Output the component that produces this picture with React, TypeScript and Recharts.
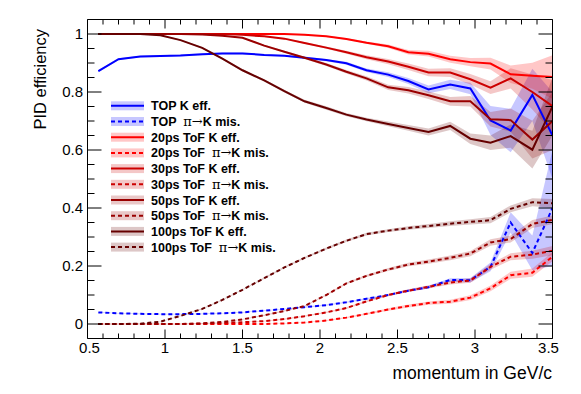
import React from 'react';
import { ComposedChart, Line, Area, XAxis, YAxis } from 'recharts';

const momentum = [0.57, 0.70, 0.84, 0.97, 1.10, 1.24, 1.37, 1.50, 1.64, 1.77, 1.90, 2.04, 2.17, 2.30, 2.44, 2.57, 2.70, 2.84, 2.97, 3.10, 3.23, 3.37, 3.50];

const topEff = [0.872, 0.913, 0.922, 0.924, 0.926, 0.930, 0.933, 0.933, 0.928, 0.925, 0.918, 0.910, 0.899, 0.875, 0.860, 0.838, 0.809, 0.826, 0.812, 0.702, 0.667, 0.790, 0.650];
const topEffErr = [0.004, 0.003, 0.003, 0.003, 0.003, 0.003, 0.003, 0.003, 0.003, 0.003, 0.004, 0.004, 0.005, 0.006, 0.008, 0.010, 0.013, 0.016, 0.020, 0.050, 0.075, 0.090, 0.150];
const topMis = [0.040, 0.037, 0.035, 0.034, 0.034, 0.035, 0.037, 0.040, 0.046, 0.052, 0.058, 0.065, 0.075, 0.087, 0.100, 0.115, 0.127, 0.152, 0.151, 0.197, 0.350, 0.245, 0.400];
const topMisErr = [0.001, 0.001, 0.001, 0.001, 0.001, 0.001, 0.001, 0.001, 0.001, 0.001, 0.002, 0.002, 0.002, 0.003, 0.003, 0.004, 0.005, 0.006, 0.008, 0.015, 0.035, 0.060, 0.200];

const tof20Eff = [1.0, 1.0, 1.0, 1.0, 1.0, 1.0, 1.0, 1.0, 1.0, 1.0, 0.997, 0.992, 0.983, 0.970, 0.958, 0.937, 0.932, 0.913, 0.903, 0.898, 0.861, 0.856, 0.852];
const tof20EffErr = [0.001, 0.001, 0.001, 0.001, 0.001, 0.001, 0.001, 0.001, 0.001, 0.001, 0.002, 0.002, 0.003, 0.004, 0.006, 0.008, 0.010, 0.012, 0.014, 0.020, 0.030, 0.045, 0.075];
const tof20Mis = [0, 0, 0, 0, 0, 0, 0, 0, 0, 0.002, 0.005, 0.012, 0.022, 0.035, 0.050, 0.062, 0.072, 0.077, 0.091, 0.123, 0.168, 0.177, 0.232];
const tof20MisErr = [0.0005, 0.0005, 0.0005, 0.0005, 0.0005, 0.0005, 0.0005, 0.0005, 0.0005, 0.001, 0.001, 0.002, 0.002, 0.003, 0.004, 0.005, 0.006, 0.007, 0.008, 0.010, 0.012, 0.014, 0.016];

const tof30Eff = [1.0, 1.0, 1.0, 1.0, 1.0, 1.0, 1.0, 0.997, 0.992, 0.984, 0.969, 0.953, 0.937, 0.920, 0.905, 0.887, 0.867, 0.867, 0.844, 0.815, 0.847, 0.800, 0.751];
const tof30EffErr = [0.001, 0.001, 0.001, 0.001, 0.001, 0.001, 0.001, 0.001, 0.002, 0.002, 0.003, 0.004, 0.005, 0.007, 0.009, 0.011, 0.013, 0.015, 0.018, 0.022, 0.035, 0.060, 0.090];
const tof30Mis = [0, 0, 0, 0, 0, 0.001, 0.003, 0.006, 0.010, 0.017, 0.027, 0.040, 0.055, 0.078, 0.100, 0.115, 0.128, 0.143, 0.150, 0.197, 0.232, 0.239, 0.253];
const tof30MisErr = [0.0005, 0.0005, 0.0005, 0.0005, 0.0005, 0.001, 0.001, 0.001, 0.001, 0.002, 0.002, 0.002, 0.003, 0.003, 0.004, 0.005, 0.006, 0.007, 0.008, 0.010, 0.012, 0.014, 0.016];

const tof50Eff = [1.0, 1.0, 1.0, 1.0, 1.0, 0.998, 0.994, 0.987, 0.960, 0.939, 0.918, 0.895, 0.870, 0.847, 0.816, 0.806, 0.789, 0.768, 0.768, 0.706, 0.703, 0.636, 0.700];
const tof50EffErr = [0.001, 0.001, 0.001, 0.001, 0.001, 0.001, 0.002, 0.002, 0.003, 0.003, 0.004, 0.005, 0.006, 0.007, 0.009, 0.011, 0.013, 0.015, 0.018, 0.025, 0.040, 0.065, 0.100];
const tof50Mis = [0, 0, 0, 0, 0, 0.002, 0.007, 0.016, 0.030, 0.045, 0.062, 0.100, 0.140, 0.166, 0.188, 0.205, 0.215, 0.228, 0.243, 0.281, 0.293, 0.345, 0.359];
const tof50MisErr = [0.0005, 0.0005, 0.0005, 0.0005, 0.0005, 0.001, 0.001, 0.001, 0.002, 0.002, 0.002, 0.003, 0.003, 0.004, 0.005, 0.006, 0.007, 0.008, 0.009, 0.011, 0.012, 0.014, 0.015];

const tof100Eff = [1.0, 1.0, 1.0, 0.996, 0.979, 0.952, 0.915, 0.875, 0.840, 0.803, 0.768, 0.745, 0.722, 0.705, 0.690, 0.676, 0.662, 0.683, 0.639, 0.625, 0.648, 0.601, 0.750];
const tof100EffErr = [0.001, 0.001, 0.001, 0.002, 0.002, 0.003, 0.003, 0.004, 0.004, 0.005, 0.005, 0.006, 0.006, 0.006, 0.008, 0.010, 0.012, 0.014, 0.018, 0.025, 0.040, 0.065, 0.100];
const tof100Mis = [0, 0, 0.001, 0.008, 0.028, 0.052, 0.083, 0.118, 0.158, 0.195, 0.228, 0.260, 0.287, 0.310, 0.322, 0.331, 0.338, 0.346, 0.352, 0.358, 0.397, 0.420, 0.416];
const tof100MisErr = [0.0005, 0.0005, 0.0005, 0.001, 0.001, 0.002, 0.002, 0.002, 0.003, 0.003, 0.003, 0.004, 0.004, 0.005, 0.005, 0.006, 0.007, 0.008, 0.009, 0.011, 0.012, 0.014, 0.015];

const xMajorTicks = [0.5, 1, 1.5, 2, 2.5, 3, 3.5];
const xTickLabels = ['0.5', '1', '1.5', '2', '2.5', '3', '3.5'];
const xAllTicks = [0.5, 0.6, 0.7, 0.8, 0.9, 1, 1.1, 1.2, 1.3, 1.4, 1.5, 1.6, 1.7, 1.8, 1.9, 2, 2.1, 2.2, 2.3, 2.4, 2.5, 2.6, 2.7, 2.8, 2.9, 3, 3.1, 3.2, 3.3, 3.4, 3.5];
const yMajorTicks = [0, 0.2, 0.4, 0.6, 0.8, 1];
const yTickLabels = ['0', '0.2', '0.4', '0.6', '0.8', '1'];
const yAllTicks = [0, 0.05, 0.1, 0.15, 0.2, 0.25, 0.3, 0.35, 0.4, 0.45, 0.5, 0.55, 0.6, 0.65, 0.7, 0.75, 0.8, 0.85, 0.9, 0.95, 1];

const series = [
  { key: 'topEff', label: 'TOP K eff.', mis: false, color: '#0000ff', vals: topEff, err: topEffErr },
  { key: 'topMis', label: 'TOP', mis: true, color: '#0000ff', vals: topMis, err: topMisErr },
  { key: 'tof20Eff', label: '20ps ToF K eff.', mis: false, color: '#ff0000', vals: tof20Eff, err: tof20EffErr },
  { key: 'tof20Mis', label: '20ps ToF', mis: true, color: '#ff0000', vals: tof20Mis, err: tof20MisErr },
  { key: 'tof30Eff', label: '30ps ToF K eff.', mis: false, color: '#cc0000', vals: tof30Eff, err: tof30EffErr },
  { key: 'tof30Mis', label: '30ps ToF', mis: true, color: '#cc0000', vals: tof30Mis, err: tof30MisErr },
  { key: 'tof50Eff', label: '50ps ToF K eff.', mis: false, color: '#990000', vals: tof50Eff, err: tof50EffErr },
  { key: 'tof50Mis', label: '50ps ToF', mis: true, color: '#990000', vals: tof50Mis, err: tof50MisErr },
  { key: 'tof100Eff', label: '100ps ToF K eff.', mis: false, color: '#660000', vals: tof100Eff, err: tof100EffErr },
  { key: 'tof100Mis', label: '100ps ToF', mis: true, color: '#660000', vals: tof100Mis, err: tof100MisErr },
];

const data = momentum.map((p, i) => {
  const row: any = { p };
  series.forEach((s) => {
    row[s.key] = s.vals[i];
    row[s.key + 'Band'] = [s.vals[i] - s.err[i], s.vals[i] + s.err[i]];
  });
  return row;
});

const FONT = '"Liberation Sans", Arial, Helvetica, sans-serif';
const SERIF = '"DejaVu Serif", "Liberation Serif", serif';
const W = 581;
const H = 394;
const BAND_OPACITY = 0.22;

const isMajor = (v: number, arr: number[]) => arr.some((m) => Math.abs(m - v) < 1e-6);
const majorIndex = (v: number, arr: number[]) => arr.findIndex((m) => Math.abs(m - v) < 1e-6);

const BottomTick = (props: any) => {
  const { x, y, payload } = props;
  const v = payload.value;
  const mi = majorIndex(v, xMajorTicks);
  const len = mi >= 0 ? 9 : 5;
  let dx = 0;
  if (mi === 0) dx = 2;
  if (mi === xMajorTicks.length - 1) dx = -4;
  return (
    <g>
      <line x1={x} x2={x} y1={y} y2={y - len} stroke="#000" strokeWidth={1} />
      {mi >= 0 && (
        <text x={x + dx} y={y + 14.8} textAnchor="middle" fontSize={15} fontFamily={FONT} fill="#000">
          {xTickLabels[mi]}
        </text>
      )}
    </g>
  );
};

const TopTick = (props: any) => {
  const { x, y, payload } = props;
  const len = isMajor(payload.value, xMajorTicks) ? 9 : 5;
  return <line x1={x} x2={x} y1={y} y2={y + len} stroke="#000" strokeWidth={1} />;
};

const LeftTick = (props: any) => {
  const { x, y, payload } = props;
  const mi = majorIndex(payload.value, yMajorTicks);
  const len = mi >= 0 ? 14 : 7;
  return (
    <g>
      <line x1={x} x2={x + len} y1={y} y2={y} stroke="#000" strokeWidth={1} />
      {mi >= 0 && (
        <text x={x - 4.5} y={y + 5.3} textAnchor="end" fontSize={15} fontFamily={FONT} fill="#000">
          {yTickLabels[mi]}
        </text>
      )}
    </g>
  );
};

const RightTick = (props: any) => {
  const { x, y, payload } = props;
  const len = isMajor(payload.value, yMajorTicks) ? 14 : 7;
  return <line x1={x} x2={x - len} y1={y} y2={y} stroke="#000" strokeWidth={1} />;
};

const LegendOverlay = () => {
  const x0 = 111;
  const boxW = 33;
  const boxH = 9;
  const y0 = 105.8;
  const step = 15.7;
  return (
    <svg width={W} height={H} style={{ position: 'absolute', left: 0, top: 0, pointerEvents: 'none' }}>
      {series.map((s, i) => {
        const cy = y0 + i * step;
        return (
          <g key={s.key}>
            <rect x={x0} y={cy - boxH / 2} width={boxW} height={boxH} fill={s.color} fillOpacity={BAND_OPACITY} />
            <line
              x1={x0}
              x2={x0 + boxW}
              y1={cy}
              y2={cy}
              stroke={s.color}
              strokeWidth={2}
              strokeDasharray={s.mis ? '4 3' : undefined}
            />
            <text
              x={151}
              y={cy + 4.5}
              fontSize={12.5}
              fontWeight="bold"
              fontFamily={FONT}
              fill="#000"
              style={{ whiteSpace: 'pre' }}
              xmlSpace="preserve"
            >
              {s.mis ? (
                <>
                  {s.label + '  '}
                  <tspan fontFamily={SERIF} fontWeight="normal" fontSize={13}>π→</tspan>
                  {'K mis.'}
                </>
              ) : (
                s.label
              )}
            </text>
          </g>
        );
      })}
      <text x={552} y={379} textAnchor="end" fontSize={17.5} fontFamily={FONT} fill="#000">
        momentum in GeV/c
      </text>
      <text
        transform="translate(46,29) rotate(-90)"
        x={0}
        y={0}
        textAnchor="end"
        fontSize={16.5}
        fontFamily={FONT}
        fill="#000"
      >
        PID efficiency
      </text>
    </svg>
  );
};

export default function App() {
  return (
    <div style={{ position: 'absolute', left: 0, top: 0, width: W, height: H, background: '#fff' }}>
      <ComposedChart
        width={W}
        height={H}
        data={data}
        margin={{ top: 18.5, right: 27.5, bottom: 54.5, left: 86.5 }}
      >
        <XAxis
          dataKey="p"
          type="number"
          domain={[0.5, 3.5]}
          allowDataOverflow
          ticks={xAllTicks}
          interval={0}
          height={1}
          tickSize={0}
          tickMargin={0}
          tick={<BottomTick />}
          tickLine={false}
          axisLine={{ stroke: '#000', strokeWidth: 1 }}
        />
        <XAxis
          xAxisId="top"
          orientation="top"
          dataKey="p"
          type="number"
          domain={[0.5, 3.5]}
          allowDataOverflow
          ticks={xAllTicks}
          interval={0}
          height={1}
          tickSize={0}
          tickMargin={0}
          tick={<TopTick />}
          tickLine={false}
          axisLine={{ stroke: '#000', strokeWidth: 1 }}
        />
        <YAxis
          type="number"
          domain={[-0.05, 1.05]}
          allowDataOverflow
          ticks={yAllTicks}
          interval={0}
          width={1}
          tickSize={0}
          tickMargin={0}
          tick={<LeftTick />}
          tickLine={false}
          axisLine={{ stroke: '#000', strokeWidth: 1 }}
        />
        <YAxis
          yAxisId="right"
          orientation="right"
          type="number"
          domain={[-0.05, 1.05]}
          allowDataOverflow
          ticks={yAllTicks}
          interval={0}
          width={1}
          tickSize={0}
          tickMargin={0}
          tick={<RightTick />}
          tickLine={false}
          axisLine={{ stroke: '#000', strokeWidth: 1 }}
        />
        {series.map((s) => (
          <Area
            key={s.key + 'Band'}
            dataKey={s.key + 'Band'}
            type="linear"
            stroke="none"
            fill={s.color}
            fillOpacity={BAND_OPACITY}
            isAnimationActive={false}
            dot={false}
            activeDot={false}
          />
        ))}
        {series.map((s) => (
          <Line
            key={s.key}
            dataKey={s.key}
            type="linear"
            stroke={s.color}
            strokeWidth={2}
            strokeDasharray={s.mis ? '4 3' : undefined}
            dot={false}
            activeDot={false}
            isAnimationActive={false}
          />
        ))}
      </ComposedChart>
      <LegendOverlay />
    </div>
  );
}
